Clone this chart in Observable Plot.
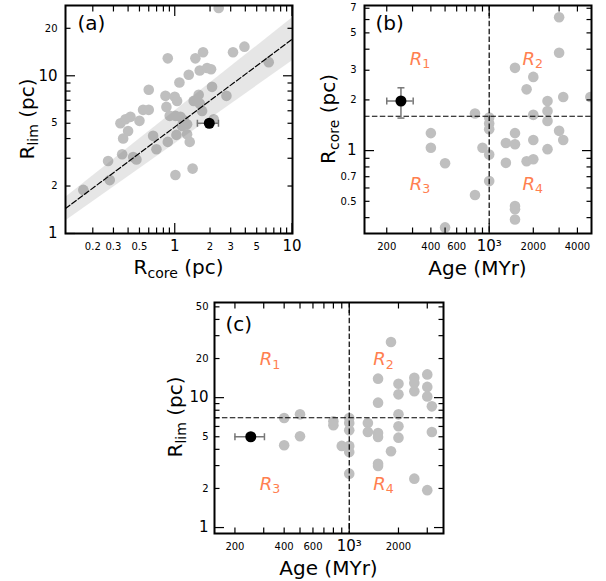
<!DOCTYPE html>
<html><head><meta charset="utf-8">
<script src="https://cdn.jsdelivr.net/npm/d3@7"></script>
<script src="https://cdn.jsdelivr.net/npm/@observablehq/plot@0.6"></script>
<style>
body{margin:0;background:#fff;}
#root{position:relative;width:606px;height:581px;overflow:hidden;background:#fff;}
#root svg{position:absolute;overflow:visible;}
</style></head><body><div id="root"></div>
<script>
// ---------- data ----------
// panel (a): R_core vs R_lim
const aRcore = [0.166,0.27,0.279,0.356,0.442,0.471,0.344,0.38,0.419,0.50,0.40,0.363,0.60,0.537,0.60,0.654,0.698,0.872,0.872,0.833,0.849,1.0,1.047,0.906,1.013,1.118,1.033,1.013,1.096,1.316,1.274,1.342,1.193,1.274,1.155,1.50,1.744,1.633,1.886,2.04,1.60,1.45,1.633,1.71,2.08,2.76,2.15,1.42,3.14,3.93,6.33,2.37];
const aRlim  = [1.89,2.88,2.18,3.18,3.05,2.95,5.0,5.3,5.49,5.18,4.47,4.0,8.15,6.08,6.08,4.16,3.42,3.81,12.9,7.46,6.35,7.35,6.93,5.57,5.57,5.49,4.22,2.35,9.07,10.15,4.26,3.81,5.23,4.93,4.81,12.9,14.1,10.8,11.2,11.0,7.57,6.93,6.67,5.99,8.51,7.46,5.30,2.58,14.1,15.3,12.2,26.9];
// fit line and band (a)
const fitX = [0.117, 10.1];
const fitY = [1.44, 17.1];
const bandLo = [1.20, 12.45];
const bandHi = [1.69, 23.3];
// panel (b): Age vs R_core
const bAge   = [400,400,500,500,800,800,900,1000,1000,1000,1000,1000,1300,1300,1500,1500,1500,1500,1500,1500,1800,1800,2000,2000,2000,2000,2500,2500,2500,2500,3000,3000,3000,3200,3200,4900];
const bRcore = [1.27,1.04,0.842,0.35,1.66,0.545,1.04,1.57,1.45,1.34,0.947,0.659,1.11,0.846,3.1,1.27,1.09,0.469,0.449,0.39,2.31,0.865,2.74,1.63,1.156,0.889,1.97,1.72,1.50,1.02,6.19,3.81,1.31,2.08,1.156,2.08];
// panel (c): Age vs R_lim
const cAge  = [400,400,500,500,800,800,900,1000,1000,1000,1000,1000,1000,1300,1300,1500,1500,1500,1500,1500,1500,1800,1800,2000,2000,2000,2000,2000,2500,2500,2500,2500,3000,3000,3000,3000,3200,3200];
const cRlim = [6.98,4.30,7.44,5.04,6.58,6.13,4.25,6.98,6.38,5.61,4.25,3.82,2.60,6.38,5.44,14.0,9.15,5.35,4.98,3.10,2.98,26.8,3.87,12.8,10.6,7.44,6.02,4.92,14.2,12.97,11.2,2.38,15.1,12.1,10.2,1.94,8.57,5.44];
// highlighted cluster with errors
const starAge = [250], starAgeLo = [200], starAgeHi = [303];
const starRcore = [1.97], starRcoreLo = [1.56], starRcoreHi = [2.36];
const starRlim = [5.0];
// thresholds
const ageCut = 1000, rcoreCut = 1.6, rlimCut = 7.0;
// region labels
const regNames = ["1","2","3","4"];
const bRegAge = [340, 2000, 340, 2000], bRegY = [3.42, 3.42, 0.62, 0.62];
const cRegAge = [330, 1630, 330, 1630], cRegY = [19.2, 19.2, 2.1, 2.1];

// ---------- helpers ----------
const GRAY = "#bfbfbf";
const DASH = "5.5,2.4";
const vCap = {draw(ctx, size){ const r = Math.sqrt(size/Math.PI); ctx.moveTo(0,-r); ctx.lineTo(0,r);} };
const hCap = {draw(ctx, size){ const r = Math.sqrt(size/Math.PI); ctx.moveTo(-r,0); ctx.lineTo(r,0);} };
const pts = (xs, ys) => xs.map((x, i) => ({x, y: ys[i]}));
const fmt = d => d === 1000 ? "10³" : String(d);

function frameAxes(xd, yd, t) {
  const inD = (v, d) => v >= d[0]*0.999 && v <= d[1]*1.001;
  const fx = a => a.filter(v => inD(v, xd)), fy = a => a.filter(v => inD(v, yd));
  const s = {stroke: "black", strokeWidth: 1.2, fill: "none", label: null};
  const MJ = 10, MN = 5.5;
  return [
    Plot.axisX({...s, ticks: fx(t.xMaj), anchor: "bottom", tickSize: MJ, dy: -MJ}),
    Plot.axisX({...s, ticks: fx(t.xMin), anchor: "bottom", tickSize: MN, dy: -MN}),
    Plot.axisX({...s, ticks: fx(t.xMaj), anchor: "top", tickSize: MJ, dy: MJ}),
    Plot.axisX({...s, ticks: fx(t.xMin), anchor: "top", tickSize: MN, dy: MN}),
    Plot.axisY({...s, ticks: fy(t.yMaj), anchor: "left", tickSize: MJ, dx: MJ}),
    Plot.axisY({...s, ticks: fy(t.yMin), anchor: "left", tickSize: MN, dx: MN}),
    Plot.axisY({...s, ticks: fy(t.yMaj), anchor: "right", tickSize: MJ, dx: -MJ}),
    Plot.axisY({...s, ticks: fy(t.yMin), anchor: "right", tickSize: MN, dx: -MN}),
    Plot.axisX({ticks: fx(t.xMaj), anchor: "bottom", tickSize: 0, tickPadding: 7, fontSize: 15, tickFormat: fmt, label: null}),
    Plot.axisX({ticks: fx(t.xLab), anchor: "bottom", tickSize: 0, tickPadding: 9, fontSize: 10, tickFormat: fmt, label: null}),
    Plot.axisY({ticks: fy(t.yMaj), anchor: "left", tickSize: 0, tickPadding: t.yPad, fontSize: 15, tickFormat: fmt, label: null}),
    Plot.axisY({ticks: fy(t.yLab), anchor: "left", tickSize: 0, tickPadding: t.yPad, fontSize: 10, tickFormat: fmt, label: null}),
    Plot.frame({stroke: "black", strokeWidth: 2})
  ];
}

function panelLabel(txt, dx, dy) {
  return Plot.text([txt], {frameAnchor: "top-left", dx, dy, fontSize: 20, textAnchor: "start", lineAnchor: "top", fill: "black"});
}

function richText(svg, x, y, parts, {rotate = false, size = 20, anchor = "middle", fill = "black"} = {}) {
  const t = d3.select(svg).append("text")
    .attr("font-family", "DejaVu Sans").attr("font-size", size)
    .attr("text-anchor", anchor).attr("fill", fill)
    .style("white-space", "pre")
    .attr("transform", `translate(${x},${y})` + (rotate ? " rotate(-90)" : ""));
  let shift = 0;
  for (const p of parts) {
    const target = p.sub ? size * 0.18 : 0;
    const ts = t.append("tspan").text(p.t).attr("dy", target - shift);
    shift = target;
    if (p.sub) ts.attr("font-size", size * 0.7);
    if (p.italic) ts.attr("font-style", "italic");
  }
  return t;
}

function place(svg, left, top) {
  svg.style.left = left + "px";
  svg.style.top = top + "px";
  document.getElementById("root").appendChild(svg);
}

const base = {style: {fontFamily: "DejaVu Sans", background: "transparent", color: "black", overflow: "visible"}};

// ---------- panel (a) ----------
{
  const xd = [0.117, 10.1], yd = [1, 27.9];
  const band = fitX.map((x, i) => ({x, lo: bandLo[i], hi: bandHi[i]}));
  const fit = pts(fitX, fitY);
  const star = [{x: starRcore[0], lo: starRcoreLo[0], hi: starRcoreHi[0], y: starRlim[0]}];
  const svg = Plot.plot({
    ...base, width: 300, height: 290,
    marginLeft: 65, marginRight: 8, marginTop: 5, marginBottom: 57,
    x: {type: "log", domain: xd}, y: {type: "log", domain: yd},
    marks: [
      Plot.dot(pts(aRcore, aRlim), {x: "x", y: "y", r: 5.3, fill: GRAY, clip: true}),
      Plot.areaY(band, {x: "x", y1: "lo", y2: "hi", fill: "gray", fillOpacity: 0.2, clip: true}),
      Plot.line(fit, {x: "x", y: "y", stroke: "black", strokeWidth: 1.2, strokeDasharray: DASH, clip: true}),
      Plot.ruleY(star, {y: "y", x1: "lo", x2: "hi", stroke: "#777", strokeWidth: 1.5}),
      Plot.dot(star, {x: "lo", y: "y", symbol: vCap, r: 3.5, stroke: "#777", strokeWidth: 1.5, fill: "none"}),
      Plot.dot(star, {x: "hi", y: "y", symbol: vCap, r: 3.5, stroke: "#777", strokeWidth: 1.5, fill: "none"}),
      Plot.dot(star, {x: "x", y: "y", r: 5.5, fill: "black"}),
      panelLabel("(a)", 12, 10),
      ...frameAxes(xd, yd, {
        xMaj: [1, 10], xMin: [0.2,0.3,0.4,0.5,0.6,0.7,0.8,0.9,2,3,4,5,6,7,8,9], xLab: [0.2,0.3,0.5,0.7,2,3,5,7],
        yMaj: [1, 10], yMin: [2,3,4,5,6,7,8,9,20], yLab: [2,5,20], yPad: 8
      })
    ]
  });
  richText(svg, 178.5, 274, [{t: "R"}, {t: "core", sub: true}, {t: " (pc)"}]);
  richText(svg, 34, 119, [{t: "R"}, {t: "lim", sub: true}, {t: " (pc)"}], {rotate: true});
  place(svg, 0, 0);
}

// ---------- panel (b) ----------
{
  const xd = [141, 4990], yd = [0.322, 7.27];
  const star = [{x: starAge[0], xlo: starAgeLo[0], xhi: starAgeHi[0], y: starRcore[0], ylo: starRcoreLo[0], yhi: starRcoreHi[0]}];
  const svg = Plot.plot({
    ...base, width: 306, height: 290,
    marginLeft: 64, marginRight: 15, marginTop: 5, marginBottom: 57,
    x: {type: "log", domain: xd}, y: {type: "log", domain: yd},
    marks: [
      Plot.dot(pts(bAge, bRcore), {x: "x", y: "y", r: 5.3, fill: GRAY, clip: true}),
      Plot.ruleX([ageCut], {stroke: "black", strokeWidth: 1.2, strokeDasharray: DASH}),
      Plot.ruleY([rcoreCut], {stroke: "black", strokeWidth: 1.2, strokeDasharray: DASH}),
      Plot.ruleY(star, {y: "y", x1: "xlo", x2: "xhi", stroke: "#777", strokeWidth: 1.5}),
      Plot.ruleX(star, {x: "x", y1: "ylo", y2: "yhi", stroke: "#777", strokeWidth: 1.5}),
      Plot.dot(star, {x: "xlo", y: "y", symbol: vCap, r: 3.5, stroke: "#777", strokeWidth: 1.5, fill: "none"}),
      Plot.dot(star, {x: "xhi", y: "y", symbol: vCap, r: 3.5, stroke: "#777", strokeWidth: 1.5, fill: "none"}),
      Plot.dot(star, {x: "x", y: "ylo", symbol: hCap, r: 3.5, stroke: "#777", strokeWidth: 1.5, fill: "none"}),
      Plot.dot(star, {x: "x", y: "yhi", symbol: hCap, r: 3.5, stroke: "#777", strokeWidth: 1.5, fill: "none"}),
      Plot.dot(star, {x: "x", y: "y", r: 5.5, fill: "black"}),
      panelLabel("(b)", 11, 10),
      ...frameAxes(xd, yd, {
        xMaj: [1000], xMin: [200,300,400,500,600,700,800,900,2000,3000,4000], xLab: [200,400,600,2000,4000],
        yMaj: [1], yMin: [0.4,0.5,0.6,0.7,0.8,0.9,2,3,4,5,6,7], yLab: [0.5,0.7,2,3,5,7], yPad: 8
      })
    ]
  });
  const sx = svg.scale("x"), sy = svg.scale("y");
  regNames.forEach((n, i) => richText(svg, sx.apply(bRegAge[i]), sy.apply(bRegY[i]) + 5, [{t: "R", italic: true}, {t: n, sub: true}], {size: 18, fill: "#ff7f50"}));
  richText(svg, 177.5, 275, [{t: "Age (MYr)"}]);
  richText(svg, 35, 119, [{t: "R"}, {t: "core", sub: true}, {t: " (pc)"}], {rotate: true});
  place(svg, 300, 0);
}

// ---------- panel (c) ----------
{
  const xd = [150, 3770], yd = [0.9, 54];
  const star = [{x: starAge[0], xlo: starAgeLo[0], xhi: starAgeHi[0], y: starRlim[0]}];
  const svg = Plot.plot({
    ...base, width: 300, height: 291,
    marginLeft: 64, marginRight: 7, marginTop: 12, marginBottom: 48,
    x: {type: "log", domain: xd}, y: {type: "log", domain: yd},
    marks: [
      Plot.dot(pts(cAge, cRlim), {x: "x", y: "y", r: 5.3, fill: GRAY, clip: true}),
      Plot.ruleX([ageCut], {stroke: "black", strokeWidth: 1.2, strokeDasharray: DASH}),
      Plot.ruleY([rlimCut], {stroke: "black", strokeWidth: 1.2, strokeDasharray: DASH}),
      Plot.ruleY(star, {y: "y", x1: "xlo", x2: "xhi", stroke: "#777", strokeWidth: 1.5}),
      Plot.dot(star, {x: "xlo", y: "y", symbol: vCap, r: 3.5, stroke: "#777", strokeWidth: 1.5, fill: "none"}),
      Plot.dot(star, {x: "xhi", y: "y", symbol: vCap, r: 3.5, stroke: "#777", strokeWidth: 1.5, fill: "none"}),
      Plot.dot(star, {x: "x", y: "y", r: 5.5, fill: "black"}),
      panelLabel("(c)", 11, 14),
      ...frameAxes(xd, yd, {
        xMaj: [1000], xMin: [200,300,400,500,600,700,800,900,2000,3000], xLab: [200,400,600,2000],
        yMaj: [1, 10], yMin: [2,3,4,5,6,7,8,9,20,30,40,50], yLab: [2,5,20,50], yPad: 6
      })
    ]
  });
  const sx = svg.scale("x"), sy = svg.scale("y");
  regNames.forEach((n, i) => richText(svg, sx.apply(cRegAge[i]), sy.apply(cRegY[i]) + 5, [{t: "R", italic: true}, {t: n, sub: true}], {size: 18, fill: "#ff7f50"}));
  richText(svg, 178.5, 285, [{t: "Age (MYr)"}]);
  richText(svg, 32, 127, [{t: "R"}, {t: "lim", sub: true}, {t: " (pc)"}], {rotate: true});
  place(svg, 150, 290);
}
</script></body></html>
